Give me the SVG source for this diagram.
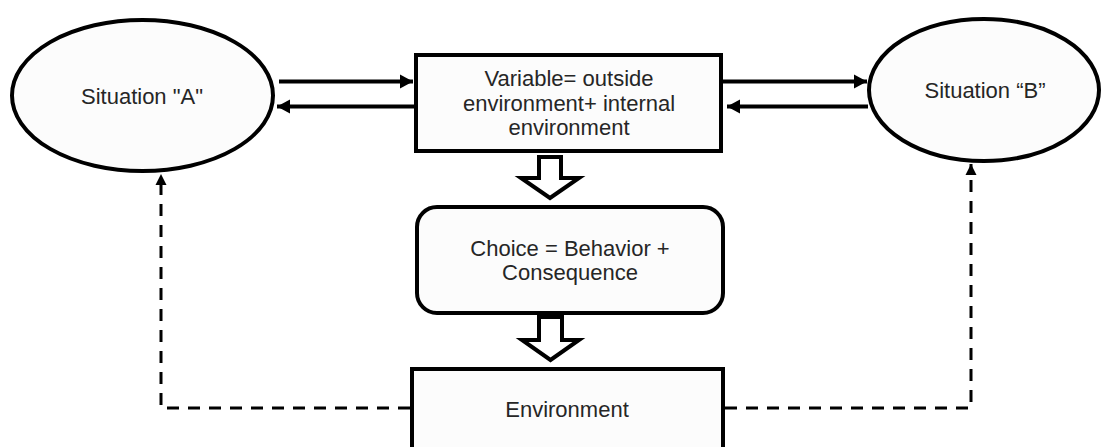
<svg xmlns="http://www.w3.org/2000/svg" width="1102" height="447" viewBox="0 0 1102 447">
  <style>
    .shape { fill: #fcfcfc; stroke: #000; stroke-width: 4; }
    .block { fill: #fff; stroke: #000; stroke-width: 4; stroke-linejoin: miter; }
    .lbl { font-family: "Liberation Sans", Arial, sans-serif; font-size: 22px; fill: #262626; text-anchor: middle; }
    .solid { fill: none; stroke: #000; stroke-width: 4; }
    .dash { fill: none; stroke: #000; stroke-width: 3; stroke-dasharray: 12 9; }
  </style>
  <defs>
    <marker id="ah" markerUnits="userSpaceOnUse" markerWidth="14" markerHeight="16" refX="13" refY="8" orient="auto">
      <path d="M0,1 L13,8 L0,15 Z" fill="#000"/>
    </marker>
    <marker id="ahs" markerUnits="userSpaceOnUse" markerWidth="12" markerHeight="12" refX="11" refY="6" orient="auto">
      <path d="M0,0.5 L11,6 L0,11.5 Z" fill="#000"/>
    </marker>
  </defs>
  <rect width="1102" height="447" fill="#fff"/>

  <g id="connectors">
    <line class="solid" x1="279" y1="81.5" x2="413" y2="81.5" marker-end="url(#ah)"/>
    <line class="solid" x1="414" y1="106.5" x2="277" y2="106.5" marker-end="url(#ah)"/>
    <line class="solid" x1="723" y1="81.5" x2="867" y2="81.5" marker-end="url(#ah)"/>
    <line class="solid" x1="868" y1="106.5" x2="727" y2="106.5" marker-end="url(#ah)"/>
    <path class="dash" d="M410,408 L161,408 L161,174" marker-end="url(#ahs)"/>
    <path class="dash" d="M725,408 L971,408 L971,164" marker-end="url(#ahs)"/>
    <polygon class="block" points="539,157 561,157 561,178 579,178 550,198 521,178 539,178"/>
    <polygon class="block" points="539,317 562,317 562,340 579,340 550.5,360 522,340 539,340"/>
  </g>

  <g id="situationA">
    <ellipse class="shape" cx="142.5" cy="95.5" rx="130.5" ry="75.5"/>
    <text class="lbl" x="142" y="104">Situation "A"</text>
  </g>

  <g id="situationB">
    <ellipse class="shape" cx="984" cy="90" rx="115" ry="71"/>
    <text class="lbl" x="985" y="98">Situation “B”</text>
  </g>

  <g id="variable">
    <rect class="shape" x="416" y="55" width="305" height="96"/>
    <text class="lbl" x="569" y="86">Variable= outside</text>
    <text class="lbl" x="569" y="111">environment+ internal</text>
    <text class="lbl" x="569" y="135">environment</text>
  </g>

  <g id="choice">
    <rect class="shape" x="417" y="207" width="306" height="106" rx="20" ry="20"/>
    <text class="lbl" x="570" y="256">Choice = Behavior +</text>
    <text class="lbl" x="570" y="280">Consequence</text>
  </g>

  <g id="environment">
    <rect class="shape" x="412" y="369" width="311" height="100"/>
    <text class="lbl" x="567" y="417">Environment</text>
  </g>
</svg>
